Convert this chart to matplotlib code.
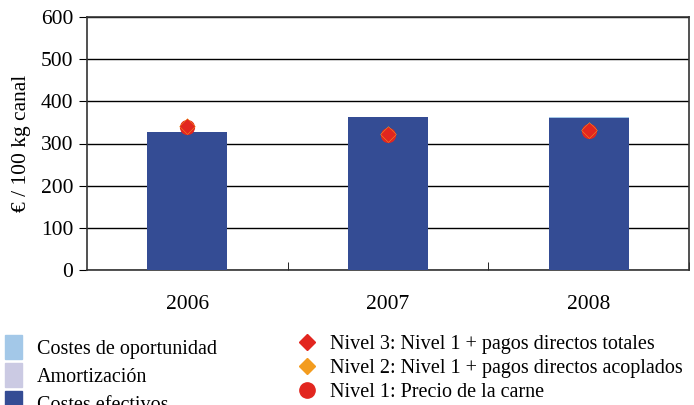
import numpy as np
import matplotlib.pyplot as plt
from matplotlib.lines import Line2D
from matplotlib.patches import Patch

plt.rcParams['font.family'] = ['Liberation Serif', 'DejaVu Serif']

# Data
years = ['2006', '2007', '2008']
costes_efectivos = [327, 362, 360]
amortizacion = [0, 0, 0]
costes_oportunidad = [0, 0, 2]
nivel1 = [338, 319, 329]
nivel2 = [341, 322, 332]
nivel3 = [342, 323, 333]

c_efec = '#344C94'
c_amort = '#CBCAE3'
c_oport = '#A3C8E8'
c_red = '#E2261F'
c_orange = '#F39C1F'

fig = plt.figure(figsize=(6.94, 4.05), dpi=100)
ax = fig.add_axes([87 / 694, 1 - 270 / 405, 602 / 694, 253 / 405])

x = np.arange(len(years))
w = 0.4
ax.bar(x, costes_efectivos, w, color=c_efec, zorder=3)
ax.bar(x, amortizacion, w, bottom=costes_efectivos, color=c_amort, zorder=3)
bottom2 = np.array(costes_efectivos) + np.array(amortizacion)
ax.bar(x, costes_oportunidad, w, bottom=bottom2, color=c_oport, zorder=3)

ax.scatter(x, nivel1, s=120, marker='o', color=c_red, zorder=4, linewidths=0)
ax.scatter(x, nivel2, s=70, marker='D', color=c_orange, zorder=5, linewidths=0)
ax.scatter(x, nivel3, s=60, marker='D', color=c_red, zorder=6, linewidths=0)

ax.set_xlim(-0.5, 2.5)
ax.set_ylim(0, 600)
ax.set_yticks(range(0, 601, 100))
ax.yaxis.grid(True, color='black', linewidth=1.0, zorder=1)
ax.set_xticks(x)
ax.set_xticklabels(years)
ax.set_xticks([0.5, 1.5, 2.5], minor=True)
ax.tick_params(axis='x', which='major', length=0, pad=18, labelsize=15.5)
ax.tick_params(axis='x', which='minor', length=6, direction='in')
ax.tick_params(axis='y', length=6, direction='out', labelsize=15.5, pad=4)
for s in ax.spines.values():
    s.set_color('#333333')
    s.set_linewidth(1.2)
ax.set_ylabel('€ / 100 kg canal', fontsize=15.5, labelpad=7)

# Legend
left_handles = [Patch(color=c_oport), Patch(color=c_amort), Patch(color=c_efec)]
left_labels = ['Costes de oportunidad', 'Amortización', 'Costes efectivos']
fig.legend(left_handles, left_labels, loc='upper left',
           bbox_to_anchor=(5 / 694, 1 - 335 / 405), frameon=False,
           fontsize=14.5, handlelength=0.85, handleheight=1.45,
           labelspacing=0.2, handletextpad=0.75, borderpad=0,
           borderaxespad=0)

right_handles = [Line2D([], [], marker='D', color=c_red, ls='', markersize=8),
                 Line2D([], [], marker='D', color=c_orange, ls='', markersize=8),
                 Line2D([], [], marker='o', color=c_red, ls='', markersize=11)]
right_labels = ['Nivel 3: Nivel 1 + pagos directos totales',
                'Nivel 2: Nivel 1 + pagos directos acoplados',
                'Nivel 1: Precio de la carne']
fig.legend(right_handles, right_labels, loc='upper left',
           bbox_to_anchor=(297 / 694, 1 - 335 / 405), frameon=False,
           fontsize=14.5, handlelength=1.0, labelspacing=0.25,
           handletextpad=0.65, borderpad=0, borderaxespad=0)

fig.savefig('out.png', dpi=100)
